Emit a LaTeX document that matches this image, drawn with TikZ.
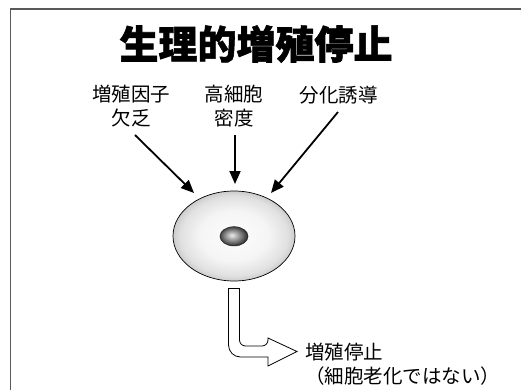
\documentclass[tikz,border=0pt]{standalone}
\usepackage{fontspec}
\newfontfamily\jpfont{Noto Sans CJK JP}
\newfontfamily\jpheavy{Noto Sans CJK JP}[BoldFeatures={FakeBold=1.5}]
\usetikzlibrary{arrows.meta,shapes.geometric}

% soft body of the cell: pale centre, greyer towards the membrane
\pgfdeclareradialshading{cellbody}{\pgfpoint{0bp}{0bp}}{%
  color(0bp)=(black!1); color(14bp)=(black!4); color(22bp)=(black!12);
  color(25bp)=(black!20); color(50bp)=(black!20)}
% nucleus: light highlight, dark rim
\pgfdeclareradialshading{nucleusbody}{\pgfpoint{-4bp}{3bp}}{%
  color(0bp)=(black!8); color(8bp)=(black!30); color(17bp)=(black!55);
  color(25bp)=(black!80); color(50bp)=(black!80)}

\tikzset{
  label/.style={font=\jpfont\fontsize{19.5}{23.5}\selectfont, align=center, inner sep=0pt},
  heading/.style={font=\jpheavy\bfseries\fontsize{39}{44}\selectfont, inner sep=0pt},
  push/.style={line width=1.8pt, -{Triangle[length=13pt,width=11pt]}},
  frameline/.style={draw=black!65, line width=1.6pt},
  hollow/.style={draw=black, line width=0.8pt, fill=white, line join=miter},
}

\begin{document}
\begin{tikzpicture}[x=1pt, y=-1pt]
  \useasboundingbox (0,0) rectangle (521,389);
  \fill[white] (0,0) rectangle (521,389);

  % slide frame (open to the right and bottom)
  \draw[frameline] (10.5,395) -- (10.5,8.8) -- (530,8.8);

  % title
  \node[heading] (title) at (256,44) {生理的増殖停止};

  % causes
  \node[label] (lack)    at (131,106) {増殖因子\\欠乏};
  \node[label] (density) at (234,106) {高細胞\\密度};
  \node[label] (diff)    at (338.5,95.5) {分化誘導};

  % cell with nucleus
  \shade[shading=cellbody] (234,236) ellipse [x radius=61, y radius=45];
  \node[draw=black, line width=0.7pt, ellipse, minimum width=122pt, minimum height=90pt,
        inner sep=0pt] (cell) at (234,236) {};
  \shade[shading=nucleusbody] (234,236.3) ellipse [x radius=14, y radius=9.6];
  \node[draw=black!85, line width=0.6pt, ellipse, minimum width=28pt, minimum height=19.2pt,
        inner sep=0pt] (nucleus) at (234,236.3) {};

  % arrow ends
  \coordinate (s1) at (135,135);  \coordinate (t1) at (194,193);
  \coordinate (s2) at (235,135);  \coordinate (t2) at (235,184);
  \coordinate (s3) at (338,112);  \coordinate (t3) at (271,193);
  \draw[push] (s1) -- (t1);
  \draw[push] (s2) -- (t2);
  \draw[push] (s3) -- (t3);

  % bent hollow arrow leading to the outcome
  \draw[hollow] (228.5,288.5) -- (239.5,288.5)
      [rounded corners=6pt] -- (239.5,346) -- (268,346) [sharp corners]
      -- (268,338) -- (297,351.5) -- (268,366) -- (268,357)
      [rounded corners=12pt] -- (228.5,357) -- (228.5,300) [sharp corners]
      -- cycle;

  % outcome
  \node[label, anchor=west, align=left] (result) at (305,364)
    {増殖停止\\（細胞老化ではない）};
\end{tikzpicture}
\end{document}
